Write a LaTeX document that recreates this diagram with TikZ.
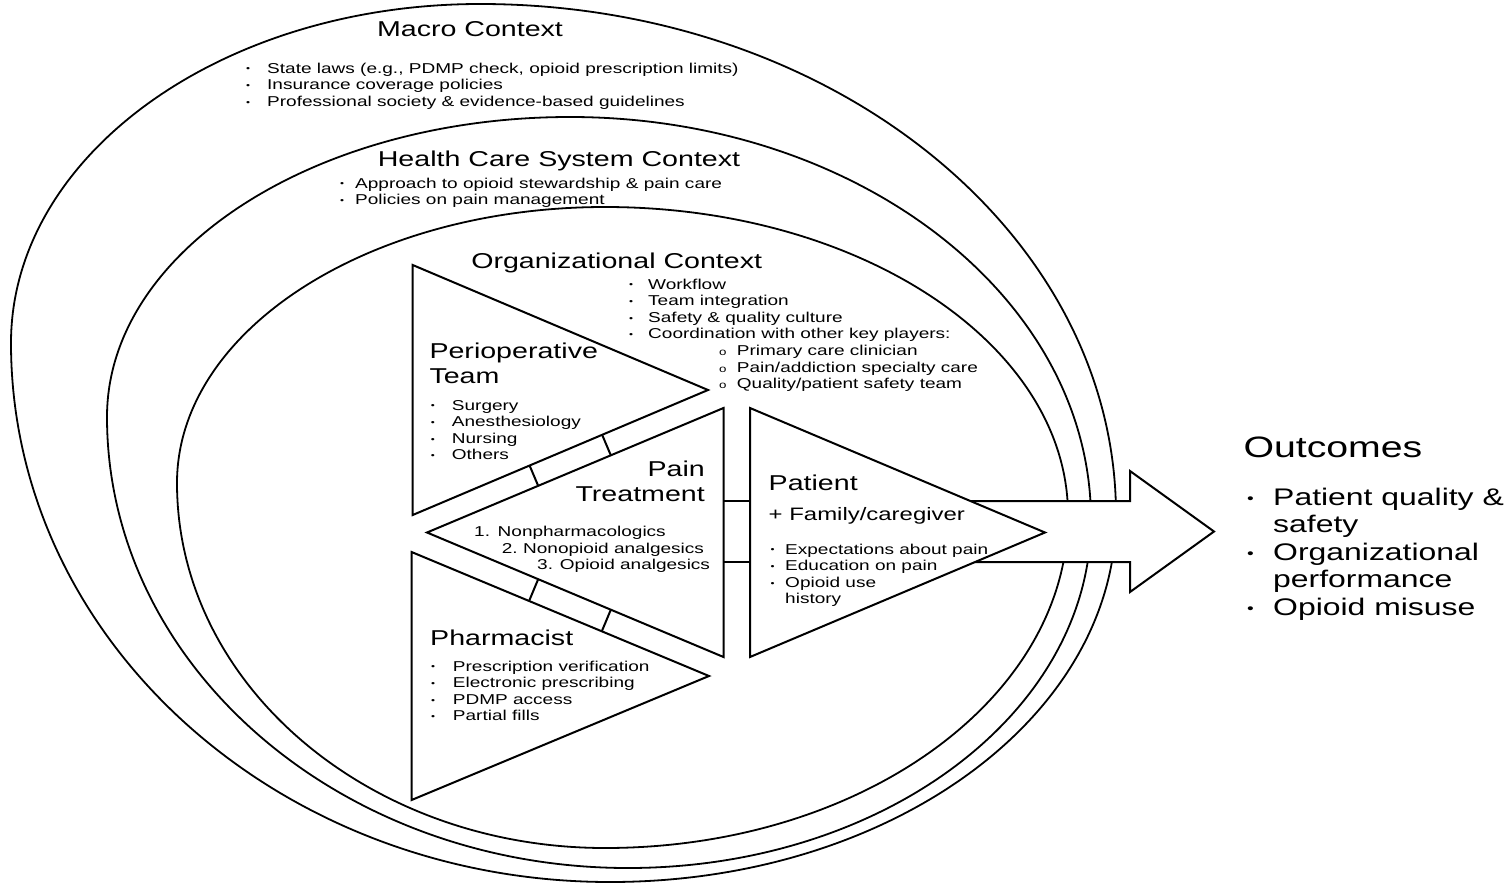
\documentclass[tikz,border=0pt]{standalone}
\usepackage{fontspec}
\setmainfont{Liberation Sans}[FakeStretch=1.33]
\usepackage{graphicx}
\usepackage{tikz}
\usetikzlibrary{calc, positioning}

\newcommand{\bul}[1]{\makebox[#1][l]{\raisebox{0.08em}{\scalebox{0.6}{\textbullet}}}}
\newcommand{\subbul}[1]{\makebox[#1][l]{\scalebox{0.7}{o}}}

\tikzset{
  shell/.style={line width=1.8pt, draw=black},
  edge/.style={line width=2pt, draw=black, line join=miter},
  heading/.style={font=\fontsize{21.5}{25}\selectfont, inner sep=0pt},
  itemtext/.style={font=\fontsize{14.3}{16.6}\selectfont, inner sep=0pt, align=left},
}

\begin{document}
\begin{tikzpicture}[x=1pt, y=-1pt]
  \useasboundingbox (0,0) rectangle (1509,883);

  % nested contexts
  \draw[shell] (480,4) arc[start angle=-90, end angle=-180, x radius=469, y radius=339]
    arc[start angle=-180, end angle=-270, x radius=599, y radius=539]
    arc[start angle=-270, end angle=-360, x radius=506, y radius=367]
    arc[start angle=-360, end angle=-450, x radius=636, y radius=511] -- cycle;
  \draw[shell] (570,117) arc[start angle=-90, end angle=-180, x radius=463, y radius=300]
    arc[start angle=-180, end angle=-270, x radius=521, y radius=451]
    arc[start angle=-270, end angle=-360, x radius=463, y radius=348]
    arc[start angle=-360, end angle=-450, x radius=521, y radius=403] -- cycle;
  \draw[shell] (605,207) arc[start angle=-90, end angle=-180, x radius=428, y radius=276]
    arc[start angle=-180, end angle=-270, x radius=428, y radius=365]
    arc[start angle=-270, end angle=-360, x radius=463, y radius=333]
    arc[start angle=-360, end angle=-450, x radius=463, y radius=308] -- cycle;

  % arrow to outcomes
  \filldraw[edge, fill=white] (900,501) -- (1130,501) -- (1130,471) -- (1214,531.5)
    -- (1130,592) -- (1130,562) -- (900,562) -- cycle;

  % triangles
  \coordinate (peri1) at (412.7,265);
  \coordinate (peri2) at (412.7,515);
  \coordinate (peri3) at (708,390);
  \coordinate (pain1) at (723.5,408);
  \coordinate (pain2) at (723.5,657);
  \coordinate (pain3) at (427,532.5);
  \coordinate (pharm1) at (411.6,552);
  \coordinate (pharm2) at (411.6,800);
  \coordinate (pharm3) at (709,676);
  \coordinate (pat1) at (750,408);
  \coordinate (pat2) at (750,657);
  \coordinate (pat3) at (1045,532.5);
  \filldraw[edge, fill=white] (peri1) -- (peri2) -- (peri3) -- cycle;
  \filldraw[edge, fill=white] (pain1) -- (pain2) -- (pain3) -- cycle;
  \filldraw[edge, fill=white] (pharm1) -- (pharm2) -- (pharm3) -- cycle;
  \filldraw[edge, fill=white] (pat1) -- (pat2) -- (pat3) -- cycle;

  % rungs between triangles
  \coordinate (rungA) at ($(pain3)!0.375!(pain1)$);
  \coordinate (rungB) at ($(pain3)!0.62!(pain1)$);
  \coordinate (rungC) at ($(pain3)!0.375!(pain2)$);
  \coordinate (rungD) at ($(pain3)!0.62!(pain2)$);
  \draw[edge] (rungA) -- ($(peri2)!(rungA)!(peri3)$);
  \draw[edge] (rungB) -- ($(peri2)!(rungB)!(peri3)$);
  \draw[edge] (rungC) -- ($(pharm1)!(rungC)!(pharm3)$);
  \draw[edge] (rungD) -- ($(pharm1)!(rungD)!(pharm3)$);
  \coordinate (linkA) at (723.5,501);
  \coordinate (linkB) at (750,501);
  \coordinate (linkC) at (723.5,562);
  \coordinate (linkD) at (750,562);
  \draw[edge] (linkA) -- (linkB);
  \draw[edge] (linkC) -- (linkD);

  % context texts (multi-line nodes sit on their last baseline)
  \node[heading, anchor=base] (macro) at (470,37) {Macro Context};
  \node[itemtext, anchor=base west] (macrolist) at (246,106.2)
    {\bul{21pt}State laws (e.g., PDMP check, opioid prescription limits)\\
     \bul{21pt}Insurance coverage policies\\
     \bul{21pt}Professional society \& evidence-based guidelines};
  \node[heading, anchor=base] (hcs) at (559,166) {Health Care System Context};
  \node[itemtext, anchor=base west] (hcslist) at (340,204.6)
    {\bul{15pt}Approach to opioid stewardship \& pain care\\
     \bul{15pt}Policies on pain management};
  \node[heading, anchor=base] (org) at (616.7,268) {Organizational Context};
  \node[itemtext, anchor=base west] (orglist) at (629,388.6)
    {\bul{19pt}Workflow\\
     \bul{19pt}Team integration\\
     \bul{19pt}Safety \& quality culture\\
     \bul{19pt}Coordination with other key players:\\
     \hspace*{90pt}\subbul{17.7pt}Primary care clinician\\
     \hspace*{90pt}\subbul{17.7pt}Pain/addiction specialty care\\
     \hspace*{90pt}\subbul{17.7pt}Quality/patient safety team};

  % triangle texts
  \node[heading, align=left, anchor=base west] (peri) at (429.3,383) {Perioperative\\Team};
  \node[itemtext, anchor=base west] (perilist) at (430.7,459.8)
    {\bul{21pt}Surgery\\ \bul{21pt}Anesthesiology\\ \bul{21pt}Nursing\\ \bul{21pt}Others};
  \node[heading, align=right, anchor=base east] (pain) at (705,501) {Pain\\Treatment};
  \node[itemtext, anchor=base west] (painlist) at (474,569.9)
    {\makebox[23.5pt][l]{1.}Nonpharmacologics\\
     \hspace*{27.7pt}\makebox[21.3pt][l]{2.}Nonopioid analgesics\\
     \hspace*{63pt}\makebox[22.7pt][l]{3.}Opioid analgesics};
  \node[heading, anchor=base west] (patient) at (768.5,490) {Patient};
  \node[inner sep=0pt, anchor=base west, font=\fontsize{18}{21}\selectfont] (family) at (768.5,520)
    {+ Family/caregiver};
  \node[itemtext, anchor=base west] (patlist) at (770.5,603.8)
    {\bul{14.5pt}Expectations about pain\\
     \bul{14.5pt}Education on pain\\
     \bul{14.5pt}Opioid use\\
     \hspace*{14.5pt}history};
  \node[heading, anchor=base west] (pharm) at (430,645) {Pharmacist};
  \node[itemtext, anchor=base west] (pharmlist) at (431,720.8)
    {\bul{21.7pt}Prescription verification\\
     \bul{21.7pt}Electronic prescribing\\
     \bul{21.7pt}PDMP access\\
     \bul{21.7pt}Partial fills};

  % outcomes
  \node[inner sep=0pt, anchor=base west, font=\fontsize{29.5}{34}\selectfont] (outcomes) at (1243.3,457)
    {Outcomes};
  \node[inner sep=0pt, anchor=base west, align=left, font=\fontsize{24}{27.5}\selectfont] (outlist) at (1247,615)
    {\bul{26pt}Patient quality \&\\
     \hspace*{26pt}safety\\
     \bul{26pt}Organizational\\
     \hspace*{26pt}performance\\
     \bul{26pt}Opioid misuse};
\end{tikzpicture}
\end{document}
